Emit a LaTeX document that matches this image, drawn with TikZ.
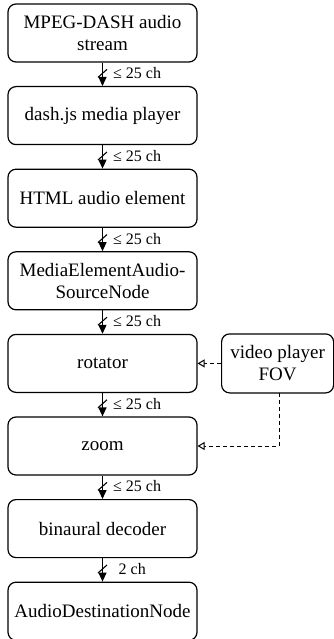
\documentclass[tikz,border=0pt]{standalone}
\usepackage{fontspec}
\setmainfont{Liberation Serif}
\usetikzlibrary{arrows.meta}
\begin{document}
\begin{tikzpicture}[x=1pt,y=-1pt,
  blockbox/.style={draw, line width=1.2pt, rounded corners=8pt, minimum width=189pt, minimum height=58pt, align=center, inner sep=2pt, font=\fontsize{19}{22}\selectfont},
  fovbox/.style={blockbox, minimum width=112pt, minimum height=59pt},
  busline/.style={line width=1.2pt, -{Triangle[length=9pt,width=8pt]}},
  ctrlline/.style={line width=1pt, dash pattern=on 4pt off 3pt, -{Triangle[open,length=7pt,width=8pt]}},
  slashline/.style={line width=1.1pt},
  chlabel/.style={anchor=west, inner sep=0pt, font=\fontsize{16}{18}\selectfont}]
\useasboundingbox (0,0) rectangle (334,639);
\node[blockbox] (b0) at (102.5,33) {MPEG-DASH audio\\stream};
\node[blockbox] (b1) at (102.5,115.6) {dash.js media player};
\node[blockbox] (b2) at (102.5,198.2) {HTML audio element};
\node[blockbox] (b3) at (102.5,280.8) {MediaElementAudio-\\SourceNode};
\node[blockbox] (b4) at (102.5,363.4) {rotator};
\node[blockbox] (b5) at (102.5,446) {zoom};
\node[blockbox] (b6) at (102.5,528.6) {binaural decoder};
\node[blockbox] (b7) at (102.5,611.2) {AudioDestinationNode};
\node[fovbox, anchor=west] (fov) at (221,363.4) {video player\\FOV};
\coordinate (fovb) at (279,392.9);
\foreach \a/\b/\t in {b0/b1/{≤ 25 ch},b1/b2/{≤ 25 ch},b2/b3/{≤ 25 ch},b3/b4/{≤ 25 ch},b4/b5/{≤ 25 ch},b5/b6/{≤ 25 ch}}{
  \draw[busline] (\a.south) -- (\b.north) coordinate[pos=0.46] (m\a);
  \draw[slashline] ([shift={(-4.5,4)}]m\a) -- ([shift={(4.5,-4)}]m\a);
  \node[chlabel] (l\a) at ([xshift=10.5pt]m\a) {\t};
}
\draw[busline] (b6.south) -- (b7.north) coordinate[pos=0.46] (mb6);
\draw[slashline] ([shift={(-4.5,4)}]mb6) -- ([shift={(4.5,-4)}]mb6);
\node[chlabel] (lb6) at ([xshift=16pt]mb6) {2 ch};
\draw[ctrlline] (fov.west) -- (b4.east);
\draw[ctrlline] (fovb) |- (b5.east);
\end{tikzpicture}
\end{document}
